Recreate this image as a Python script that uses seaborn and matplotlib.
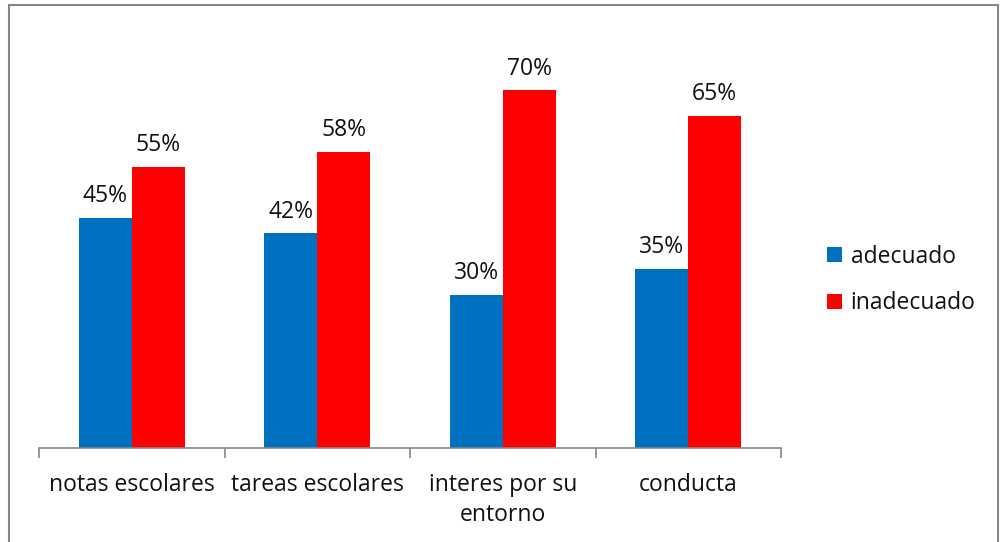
import seaborn as sns
import matplotlib.pyplot as plt
import matplotlib.patches as mpatches
from matplotlib.ticker import FixedLocator
import pandas as pd

# data
categories = ["notas escolares", "tareas escolares", "interes por su\nentorno", "conducta"]
adecuado = [45, 42, 30, 35]
inadecuado = [55, 58, 70, 65]
series = ["adecuado", "inadecuado"]
colors = ["#0070C0", "#FF0000"]

df = pd.DataFrame({
    "cat": categories * 2,
    "serie": [series[0]] * 4 + [series[1]] * 4,
    "val": adecuado + inadecuado,
})

sns.set_style("white")
plt.rcParams["font.family"] = ["Open Sans", "DejaVu Sans"]

fig = plt.figure(figsize=(10.02, 5.42), dpi=100)
W, H = 1002, 542
ax = fig.add_axes([39 / W, 1 - 448 / H, (781 - 39) / W, (448 - 39.2) / H])

sns.barplot(data=df, x="cat", y="val", hue="serie", palette=colors,
            width=0.572, saturation=1, linewidth=0, ax=ax, legend=True)

ax.set_ylim(0, 80)
ax.set_xlim(-0.5, 3.5)
ax.set_yticks([])
ax.set_xlabel("")
ax.set_ylabel("")
for s in ["top", "right", "left"]:
    ax.spines[s].set_visible(False)
ax.spines["bottom"].set_color("#868686")
ax.spines["bottom"].set_linewidth(1.2)

ax.tick_params(axis="x", which="major", bottom=False, length=0, pad=18,
               labelsize=16.5, labelcolor="#111111")
ax.xaxis.set_minor_locator(FixedLocator([-0.5, 0.5, 1.5, 2.5, 3.5]))
ax.tick_params(axis="x", which="minor", bottom=True, length=7, color="#868686", width=1.2)
for lab in ax.get_xticklabels():
    lab.set_linespacing(1.35)

for cont in ax.containers:
    ax.bar_label(cont, labels=[f"{v:.0f}%" for v in cont.datavalues],
                 padding=7, fontsize=16.5, color="#111111")

leg = ax.legend(loc="center left", bbox_to_anchor=(806 / W, 1 - 280 / H),
                bbox_transform=fig.transFigure, frameon=False, fontsize=16.5,
                handlelength=0.65, handleheight=0.65, handletextpad=0.4,
                labelspacing=1.0)
for t in leg.get_texts():
    t.set_color("#111111")

# outer frame of the chart area
fig.patches.append(mpatches.Rectangle((9 / W, -0.05), (998 - 9) / W, 1.05 - 5 / H,
                                      transform=fig.transFigure, fill=False,
                                      edgecolor="#868686", linewidth=1.5))

plt.savefig("out.png", dpi=100)
plt.close()
